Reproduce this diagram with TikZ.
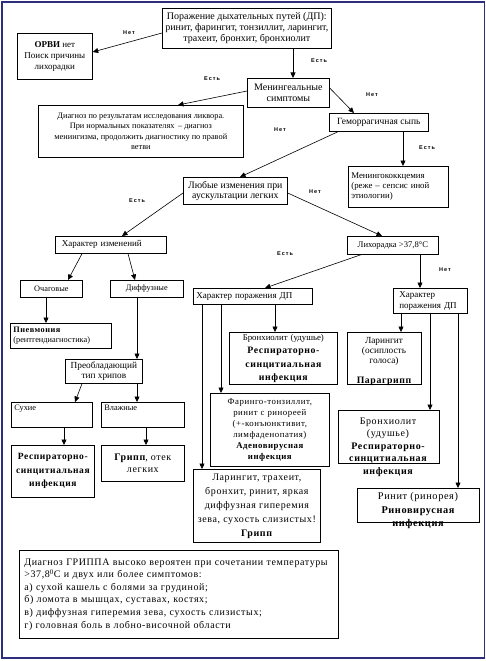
\documentclass[tikz,border=0pt]{standalone}
\usepackage{fontspec}
\setmainfont{Liberation Serif}
\newfontfamily\widefont[LetterSpace=6]{Liberation Serif}
\newfontfamily\lblfont[LetterSpace=18]{Liberation Sans}
\usetikzlibrary{arrows.meta,calc}
\definecolor{navy}{rgb}{0.18,0.18,0.50}
\newcommand\fs[2]{\fontsize{#1}{#2}\selectfont}
\tikzset{
  box/.style={draw, line width=0.7pt, inner xsep=3pt, inner ysep=1pt, anchor=north west, align=center,
              font=\fs{9}{10.5}},
  wbox/.style={box, font=\widefont\fs{9.5}{13.5}},
  txt/.style={inner sep=0pt, align=center},
  arr/.style={-{Triangle[length=5.5pt,width=5pt]}, line width=0.6pt},
  lbl/.style={inner sep=0pt, font=\lblfont\bfseries\fs{5.5}{6}}
}
\begin{document}
\begin{tikzpicture}[x=1pt,y=-1pt]
\useasboundingbox (0,0) rectangle (486,661);
\draw[navy, line width=1.4pt] (2,2) rectangle (484.5,658);

% nodes
\node[box, minimum width=164pt, minimum height=40pt, font=\fs{10}{11}] (top) at (162,8)
  {Поражение дыхательных путей (ДП):\\ринит, фарингит, тонзиллит, ларингит,\\трахеит, бронхит, бронхиолит};
\node[box, minimum width=75pt, minimum height=46pt, font=\fs{9}{11}] (orvi) at (17,33)
  {\textbf{ОРВИ} нет\\Поиск причины\\лихорадки};
\node[box, minimum width=82pt, minimum height=29pt, font=\fs{10}{11}] (men) at (247,78)
  {Менингеальные\\симптомы};
\node[box, minimum width=205pt, minimum height=52pt, font=\fs{8.3}{10.4}] (diag) at (38,105)
  {Диагноз по результатам исследования ликвора.\\При нормальных показателях \,-- диагноз\\менингизма, продолжить диагностику по правой\\ветви};
\node[box, minimum width=99pt, minimum height=18pt, font=\fs{9.5}{11}] (gem) at (329,113)
  {Геморрагичная сыпь};
\node[box, minimum height=41pt, text width=94pt, align=left, font=\fs{8.8}{10}] (mkc) at (348,166)
  {Менингококкцемия\\(реже -- сепсис иной\\этиологии)};
\node[box, minimum width=104pt, minimum height=27pt, font=\fs{9.8}{10.5}] (lub) at (183,177)
  {Любые изменения при\\аускультации легких};
\node[box, minimum height=17pt, text width=98pt, align=left, inner xsep=6.5pt] (hiz) at (55,236)
  {Характер изменений};
\node[box, minimum width=91pt, minimum height=18pt, font=\fs{8.6}{10}] (lih) at (347,236)
  {Лихорадка >37,8°С};
\node[box, minimum height=16pt, text width=113pt, align=left] (hpl) at (193,288)
  {Характер поражения ДП};
\node[box, minimum height=25pt, text width=66pt, align=left, inner xsep=4pt, font=\fs{9}{11}] (hpr) at (393,288)
  {\hspace*{2pt}Характер\\\hspace*{2pt}поражения ДП};
\node[box, minimum width=62pt, minimum height=17pt, font=\fs{8.3}{10}] (och) at (20,280) {Очаговые};
\node[box, minimum width=73pt, minimum height=17pt, font=\fs{8.3}{10}] (dif) at (110,280) {Диффузные};
\node[box, minimum height=25pt, text width=95pt, align=left, font=\fs{8.3}{10.5}] (pne) at (10,323)
  {{\widefont\bfseries Пневмония}\\(рентгендиагностика)};
\node[box, minimum width=77pt, minimum height=24pt, font=\fs{9.3}{10.5}] (pre) at (65,359)
  {Преобладающий\\тип хрипов};
\node[box, minimum height=25pt, text width=75pt, align=left, text depth=14pt, font=\fs{8.3}{10}] (suh) at (11,402) {Сухие};
\node[box, minimum height=25pt, text width=77pt, align=left, text depth=14pt, font=\fs{8.3}{10}] (vla) at (101,402) {Влажные};
\node[wbox, minimum width=83pt, minimum height=52pt] (rsl) at (11,445)
  {\bfseries Респираторно-\\\bfseries синцитиальная\\\bfseries инфекция};
\node[wbox, minimum width=83pt, minimum height=36pt, font=\widefont\fs{10}{12.5}] (grl) at (101,445)
  {\textbf{Грипп}, отек\\легких};
\node[box, minimum height=52pt, text width=102pt, font=\fs{8.8}{10.5}] (bro1) at (229,332)
  {Бронхиолит (удушье)\\{\widefont\bfseries\fs{9.8}{13.5} Респираторно-\\синцитиальная\\инфекция\par}};
\node[box, minimum width=74pt, minimum height=52pt] (lar) at (347,332) {};
\node[txt, anchor=north, text width=72pt, font=\fs{9.3}{10}] (lartxt) at (384,337)
  {Ларингит\\(осиплость\\голоса)\\[10pt]{\widefont\bfseries\fs{9.8}{10} Парагрипп}};
\node[box, minimum height=73pt, text width=113pt, font=\widefont\fs{8.8}{11}] (far) at (210,393)
  {Фаринго-тонзиллит,\\ринит с ринореей\\(+-конъюнктивит,\\лимфаденопатия)\\{\bfseries Аденовирусная\\инфекция\par}};
\node[box, minimum width=101pt, minimum height=53pt] (bro2) at (338,410) {};
\node[txt, font=\widefont\fs{10}{12.5}] (bro2txt) at (388,447)
  {Бронхиолит\\(удушье)\\\bfseries Респираторно-\\\bfseries синцитиальная\\\bfseries инфекция};
\node[wbox, minimum width=127pt, minimum height=73pt, font=\widefont\fs{10}{14}] (gri) at (193,469)
  {Ларингит, трахеит,\\бронхит, ринит, яркая\\диффузная гиперемия\\зева, сухость слизистых!\\\textbf{Грипп}};
\node[box, minimum width=122pt, minimum height=34pt] (rin) at (357,488) {};
\node[txt, font=\widefont\fs{10.3}{13.5}] (rintxt) at (418,511)
  {Ринит (ринорея)\\\bfseries Риновирусная\\\bfseries инфекция};
\node[box, minimum height=88pt, text width=309pt, align=left, inner xsep=5pt,
      font=\widefont\fs{10}{12.6}] (bot) at (19,550)
  {Диагноз ГРИППА высоко вероятен при сочетании температуры\\
   >37,8\textsuperscript{0}С и двух или более симптомов:\\
   а) сухой кашель с болями за грудиной;\\
   б) ломота в мышцах, суставах, костях;\\
   в) диффузная гиперемия зева, сухость слизистых;\\
   г) головная боль в лобно-височной области};

% connectors
\draw[arr] ($(top.north west)+(0,25)$) -- ($(orvi.north east)+(0,19)$);
\draw[arr] ($(top.south west)+(131,0)$) -- ($(men.north west)+(46,0)$);
\draw[arr] ($(men.north west)+(0,13)$) -- ($(diag.north west)+(140,0)$);
\draw[arr] ($(men.north east)+(0,10)$) -- ($(gem.north west)+(25,0)$);
\draw[arr] ($(gem.south west)+(9,0)$) -- ($(lub.north west)+(57,0)$);
\draw[arr] ($(gem.south west)+(74,0)$) -- ($(mkc.north west)+(55,0)$);
\draw[arr] ($(lub.north west)+(0,16)$) -- ($(hiz.north west)+(67,0)$);
\draw[arr] ($(lub.north east)+(0,16)$) -- ($(lih.north west)+(35,0)$);
\draw[arr] ($(lih.south west)+(14,0)$) -- ($(hpl.north west)+(72,0)$);
\draw[arr] ($(lih.south west)+(73,0)$) -- ($(hpr.north west)+(27,0)$);
\draw[arr] ($(hiz.south west)+(27,0)$) -- ($(och.north west)+(48,0)$);
\draw[arr] ($(hiz.south west)+(73,0)$) -- ($(dif.north west)+(25,0)$);
\draw[arr] ($(och.south west)+(26,0)$) -- ($(pne.north west)+(36,0)$);
\draw[arr] ($(dif.south west)+(27,0)$) -- ($(pre.north west)+(72,0)$);
\draw[arr] ($(pre.south west)+(17,0)$) -- ($(suh.north west)+(64,0)$);
\draw[arr] ($(pre.south west)+(72,0)$) -- ($(vla.north west)+(36,0)$);
\draw[arr] ($(suh.south west)+(53,0)$) -- ($(rsl.north west)+(53,0)$);
\draw[arr] ($(vla.south west)+(45,0)$) -- ($(grl.north west)+(45,0)$);
\draw[arr] ($(hpl.south west)+(9,0)$) -- ($(gri.north west)+(9,0)$);
\draw[arr] ($(hpl.south west)+(28,0)$) -- ($(far.north west)+(11,0)$);
\draw[arr] ($(hpl.south west)+(82,0)$) -- ($(bro1.north west)+(46,0)$);
\draw[arr] ($(hpr.south west)+(8,0)$) -- ($(lar.north west)+(54,0)$);
\draw[arr] ($(hpr.south west)+(37,0)$) -- ($(bro2.north west)+(92,0)$);
\draw[arr] ($(hpr.south west)+(65,0)$) -- ($(rin.north west)+(101,0)$);

% labels
\node[lbl] (l1) at (129,33) {Нет};
\node[lbl] (l2) at (319,61) {Есть};
\node[lbl] (l3) at (212,79) {Есть};
\node[lbl] (l4) at (372,95) {Нет};
\node[lbl] (l5) at (280,130) {Нет};
\node[lbl] (l6) at (427,148) {Есть};
\node[lbl] (l7) at (137,201) {Есть};
\node[lbl] (l8) at (315,192) {Нет};
\node[lbl] (l9) at (285,254) {Есть};
\node[lbl] (l10) at (445,270) {Нет};
\end{tikzpicture}
\end{document}
